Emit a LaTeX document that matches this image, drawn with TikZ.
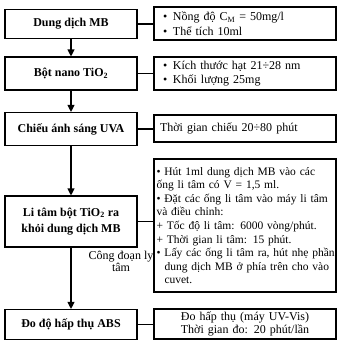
\documentclass[tikz,border=0pt]{standalone}
\usepackage{fontspec}
\setmainfont{Liberation Serif}
\usetikzlibrary{arrows.meta}
\begin{document}
\begin{tikzpicture}[x=1pt,y=-1pt,
  lbox/.style={draw, line width=1.1pt, minimum width=132pt, inner sep=0pt,
    font=\fontsize{12}{16.5}\selectfont\bfseries, align=center},
  rbox/.style={draw, line width=1.1pt, minimum width=182pt, inner ysep=0pt,
    font=\fontsize{12}{13.6}\selectfont},
  arr/.style={line width=1.1pt, -{Triangle[width=7pt,length=7pt]}},
  link/.style={line width=1.1pt},
  lbl/.style={font=\fontsize{12}{12}\selectfont, align=center, inner sep=0pt}]
\useasboundingbox (0,0) rectangle (339,340);
\newcommand{\bul}{\makebox[10pt][l]{•}}
% left column
\node[lbox, minimum height=29pt] (b1) at (71,24) {Dung dịch MB};
\node[lbox, minimum height=33pt] (b2) at (71,73.5) {Bột nano TiO\textsubscript{2}};
\node[lbox, minimum height=33pt] (b3) at (71,129) {Chiếu ánh sáng UVA};
\node[lbox, minimum height=51pt] (b4) at (71,221.5) {Li tâm bột TiO\textsubscript{2} ra\\khỏi dung dịch MB};
\node[lbox, minimum height=30pt] (b5) at (71,324.5) {Đo độ hấp thụ ABS};
% right column
\node[rbox, minimum height=33pt, inner xsep=9pt, text width=164pt, align=left,
  font=\fontsize{12}{15}\selectfont] (r1) at (245,23.5)
  {\bul Nồng độ C\textsubscript{M} = 50mg/l\\\bul Thể tích 10ml};
\node[rbox, minimum height=33pt, inner xsep=9pt, text width=164pt, align=left,
  font=\fontsize{12}{14}\selectfont] (r2) at (245,73.5)
  {\bul Kích thước hạt 21÷28 nm\\\bul Khối lượng 25mg};
\node[rbox, minimum height=27pt, inner xsep=6pt, text width=170pt, align=left] (r3) at (245,128.5)
  {Thời gian chiếu 20÷80 phút};
\node[rbox, minimum height=133pt, inner xsep=2.5pt, text width=177pt, align=left,
  font=\fontsize{11.5}{13.6}\selectfont] (r4) at (245,225.5)
  {\makebox[177pt][s]{•\ Hút 1ml dung dịch MB vào các}\\
   ống li tâm có V = 1,5 ml.\\
   \makebox[177pt][s]{•\ Đặt các ống li tâm vào máy li tâm}\\
   và điều chỉnh:\\
   + Tốc độ li tâm: 6000 vòng/phút.\\
   + Thời gian li tâm: 15 phút.\\
   \makebox[8pt][l]{•}\makebox[169pt][s]{Lấy các ống li tâm ra, hút nhẹ phần}\\
   \hspace*{8pt}\makebox[169pt][s]{dung dịch MB ở phía trên cho vào}\\
   \hspace*{8pt}cuvet.};
\node[rbox, minimum height=30pt, inner xsep=2pt, text width=178pt, align=center,
  font=\fontsize{12}{13}\selectfont] (r5) at (245,324)
  {Đo hấp thụ (máy UV-Vis)\\Thời gian đo: 20 phút/lần};
% label
\node[lbl] (lab) at (121,261) {Công đoạn ly\\tâm};
% arrows
\draw[arr] (b1.south) -- (b2.north);
\draw[arr] (b2.south) -- (b3.north);
\draw[arr] (b3.south) -- (b4.north);
\draw[arr] (b4.south) -- (b5.north);
% links
\draw[link] (b1.east) -- (b1.east -| r1.west);
\draw[link] (b2.east) -- (b2.east -| r2.west);
\draw[link] (b3.east) -- (b3.east -| r3.west);
\draw[link] (b4.east) -- (b4.east -| r4.west);
\draw[link] (b5.east) -- (b5.east -| r5.west);
\end{tikzpicture}
\end{document}
